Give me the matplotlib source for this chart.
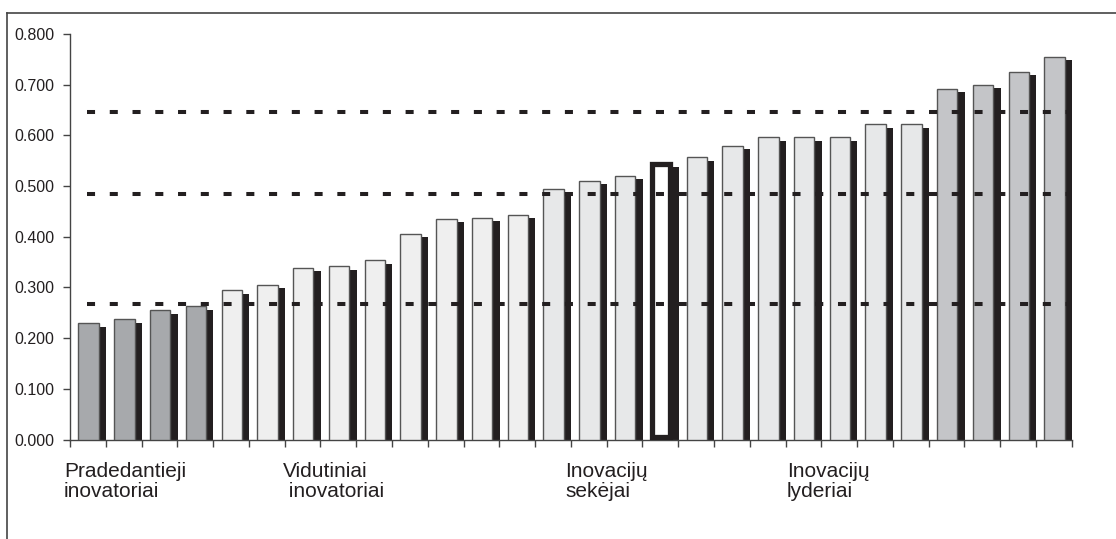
import matplotlib
matplotlib.use("Agg")
import matplotlib.pyplot as plt
from matplotlib.patches import Rectangle
from matplotlib.lines import Line2D

plt.rcParams['font.family'] = ['Liberation Sans', 'DejaVu Sans']

values = [0.229, 0.237, 0.255, 0.263, 0.294, 0.305, 0.339, 0.342, 0.354,
          0.406, 0.435, 0.437, 0.443, 0.495, 0.510, 0.520, 0.544, 0.557,
          0.580, 0.596, 0.596, 0.596, 0.622, 0.622, 0.692, 0.700, 0.725, 0.755]
groups = ['begin'] * 4 + ['mid'] * 9 + ['follow'] * 11 + ['lead'] * 4
highlight_index = 16
thresholds = [0.268, 0.484, 0.647]
yticks = [0.0, 0.1, 0.2, 0.3, 0.4, 0.5, 0.6, 0.7, 0.8]
group_labels = ["Pradedantieji\ninovatoriai", "Vidutiniai\n inovatoriai",
                "Inovacijų\nsekėjai", "Inovacijų\nlyderiai"]
group_label_x = [64, 283, 565, 787]  # pixel left edges

colors = {'begin': '#a7a9ac', 'mid': '#efefef', 'follow': '#e7e8e9', 'lead': '#c4c5c8'}
shadow_color = '#231f20'
text_color = '#231f20'

W, H = 1116, 539
fig = plt.figure(figsize=(W / 100, H / 100), dpi=100)
ax = fig.add_axes([70 / W, 1 - 439.5 / H, (1071.7 - 70) / W, (439.5 - 34) / H])

n = len(values)
x = list(range(n))
bw = 0.57
off = 0.225
# shadows
ax.bar([i + off for i in x], [v - 0.0068 for v in values], width=bw,
       color=shadow_color, edgecolor='none', zorder=2)
# front bars
for i, v in enumerate(values):
    if i == highlight_index:
        ax.bar(i + 0.02, v - 0.004, width=bw - 0.05, bottom=0.004, color='white',
               edgecolor=shadow_color, linewidth=3.8, zorder=3)
    else:
        ax.bar(i + 0.02, v, width=bw, color=colors[groups[i]],
               edgecolor='#555555', linewidth=1.0, zorder=3)

for t in thresholds:
    ax.plot([-0.03, 27.4], [t, t], color=shadow_color, lw=2.9,
            linestyle=(0, (2.0, 3.65)), solid_capstyle='butt',
            dash_capstyle='butt', zorder=4)

ax.set_xlim(-0.5, n - 0.5)
ax.set_ylim(0, 0.8)
ax.set_yticks(yticks)
ax.set_yticklabels([f"{t:.3f}" for t in yticks], fontsize=11.5, color=text_color)
ax.set_xticks([i - 0.5 for i in range(n + 1)])
ax.set_xticklabels([])
ax.tick_params(axis='x', direction='out', length=5, width=1, color='#444444')
ax.tick_params(axis='y', direction='out', length=5, width=1, color='#444444', pad=6)
for s in ['top', 'right']:
    ax.spines[s].set_visible(False)
for s in ['left', 'bottom']:
    ax.spines[s].set_color('#444444')
    ax.spines[s].set_linewidth(1.0)

for lab, px in zip(group_labels, group_label_x):
    fig.text(px / W, 1 - 462 / H, lab, fontsize=15, color=text_color,
             ha='left', va='top', linespacing=1.08)

# outer frame (left and top)
fig.add_artist(Line2D([7 / W, 7 / W], [0, 1 - 13 / H], transform=fig.transFigure,
                      color='#444444', lw=1.2))
fig.add_artist(Line2D([7 / W, 1], [1 - 13 / H, 1 - 13 / H], transform=fig.transFigure,
                      color='#444444', lw=1.2))

fig.savefig("out.png", dpi=100)
